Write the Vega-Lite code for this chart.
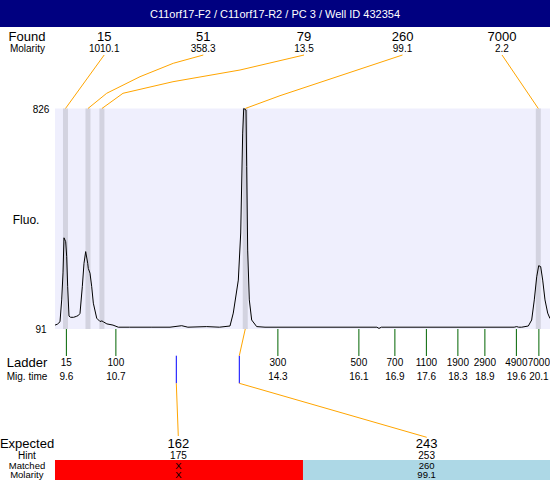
{
  "$schema": "https://vega.github.io/schema/vega-lite/v6.json",
  "width": 550,
  "height": 480,
  "padding": 0,
  "autosize": {"type": "none"},
  "background": "white",
  "config": {"view": {"stroke": null}, "font": "Liberation Sans"},
  "datasets": {
    "panels": [
      {"part": "title bar", "t": 8.125, "t2": 20.3472, "f": 1097.67, "f2": 1187.667},
      {"part": "plot area", "t": 9.347, "t2": 20.3472, "f": 91, "f2": 826},
      {"part": "unmatched", "t": 9.347, "t2": 14.858, "f": -345.7, "f2": -412.333},
      {"part": "matched", "t": 14.858, "t2": 20.3472, "f": -345.7, "f2": -412.333}
    ],
    "bands": [
      {"size": 15, "t": 9.58, "f": 91, "f2": 826},
      {"size": 51, "t": 10.08, "f": 91, "f2": 826},
      {"size": 79, "t": 10.39, "f": 91, "f2": 826},
      {"size": 260, "t": 13.575, "f": 91, "f2": 826},
      {"size": 7000, "t": 20.087, "f": 91, "f2": 826}
    ],
    "rules": [
      {"kind": "ladder", "size": 15, "t": 9.6, "f": 91, "f2": 1},
      {"kind": "ladder", "size": 100, "t": 10.7, "f": 91, "f2": 1},
      {"kind": "ladder", "size": 300, "t": 14.3, "f": 91, "f2": 1},
      {"kind": "ladder", "size": 500, "t": 16.1, "f": 91, "f2": 1},
      {"kind": "ladder", "size": 700, "t": 16.9, "f": 91, "f2": 1},
      {"kind": "ladder", "size": 1100, "t": 17.6, "f": 91, "f2": 1},
      {"kind": "ladder", "size": 1900, "t": 18.3, "f": 91, "f2": 1},
      {"kind": "ladder", "size": 2900, "t": 18.9, "f": 91, "f2": 1},
      {"kind": "ladder", "size": 4900, "t": 19.6, "f": 91, "f2": 1},
      {"kind": "ladder", "size": 7000, "t": 20.1, "f": 91, "f2": 1},
      {"kind": "expected", "size": 162, "t": 12.043, "f": 2, "f2": -90},
      {"kind": "expected", "size": 243, "t": 13.443, "f": 2, "f2": -90}
    ],
    "trace": [
      {"t": 9.347, "f": 104}, {"t": 9.40, "f": 107}, {"t": 9.458, "f": 115}, {"t": 9.496, "f": 188},
      {"t": 9.525, "f": 278}, {"t": 9.547, "f": 395}, {"t": 9.585, "f": 382}, {"t": 9.607, "f": 332},
      {"t": 9.629, "f": 232}, {"t": 9.658, "f": 134}, {"t": 9.695, "f": 130}, {"t": 9.76, "f": 130},
      {"t": 9.82, "f": 133}, {"t": 9.865, "f": 136}, {"t": 9.903, "f": 143}, {"t": 9.954, "f": 232},
      {"t": 9.992, "f": 310}, {"t": 10.029, "f": 349}, {"t": 10.074, "f": 310}, {"t": 10.087, "f": 293},
      {"t": 10.125, "f": 277}, {"t": 10.163, "f": 232}, {"t": 10.199, "f": 177}, {"t": 10.274, "f": 127},
      {"t": 10.347, "f": 116}, {"t": 10.39, "f": 118}, {"t": 10.421, "f": 115}, {"t": 10.5, "f": 108},
      {"t": 10.636, "f": 104}, {"t": 10.754, "f": 97}, {"t": 11.0, "f": 97}, {"t": 11.5, "f": 97},
      {"t": 11.903, "f": 97}, {"t": 12.163, "f": 102}, {"t": 12.3, "f": 97}, {"t": 12.718, "f": 99},
      {"t": 13.0, "f": 97}, {"t": 13.236, "f": 101}, {"t": 13.309, "f": 144}, {"t": 13.421, "f": 254},
      {"t": 13.474, "f": 411}, {"t": 13.518, "f": 744}, {"t": 13.541, "f": 826}, {"t": 13.592, "f": 821},
      {"t": 13.607, "f": 632}, {"t": 13.629, "f": 354}, {"t": 13.665, "f": 188}, {"t": 13.718, "f": 121},
      {"t": 13.829, "f": 99}, {"t": 14.014, "f": 97}, {"t": 16.5, "f": 97}, {"t": 16.547, "f": 93},
      {"t": 16.6, "f": 97}, {"t": 19.55, "f": 97}, {"t": 19.607, "f": 99}, {"t": 19.65, "f": 97},
      {"t": 19.718, "f": 97}, {"t": 19.865, "f": 101}, {"t": 19.94, "f": 121}, {"t": 19.998, "f": 188},
      {"t": 20.052, "f": 265}, {"t": 20.096, "f": 302}, {"t": 20.14, "f": 299}, {"t": 20.185, "f": 254},
      {"t": 20.236, "f": 188}, {"t": 20.296, "f": 144}, {"t": 20.347, "f": 126}
    ],
    "connectors": [
      {"id": "15", "seq": 1, "t": 10.44, "f": 1004.3}, {"id": "15", "seq": 2, "t": 9.58, "f": 826},
      {"id": "51", "seq": 1, "t": 12.643, "f": 1004.3}, {"id": "51", "seq": 2, "t": 11.976, "f": 976.7},
      {"id": "51", "seq": 3, "t": 11.236, "f": 932}, {"id": "51", "seq": 4, "t": 10.496, "f": 876.7},
      {"id": "51", "seq": 5, "t": 10.08, "f": 826},
      {"id": "79", "seq": 1, "t": 14.881, "f": 1004.3}, {"id": "79", "seq": 2, "t": 14.569, "f": 993.3},
      {"id": "79", "seq": 3, "t": 13.458, "f": 954.3}, {"id": "79", "seq": 4, "t": 11.969, "f": 915.3},
      {"id": "79", "seq": 5, "t": 10.858, "f": 876.7}, {"id": "79", "seq": 6, "t": 10.39, "f": 826},
      {"id": "260", "seq": 1, "t": 17.069, "f": 1004.3}, {"id": "260", "seq": 2, "t": 14.347, "f": 868.7},
      {"id": "260", "seq": 3, "t": 13.575, "f": 826},
      {"id": "7000", "seq": 1, "t": 19.281, "f": 1004.3}, {"id": "7000", "seq": 2, "t": 20.087, "f": 826},
      {"id": "m243a", "seq": 1, "t": 13.575, "f": 91}, {"id": "m243a", "seq": 2, "t": 13.443, "f": 2},
      {"id": "m243b", "seq": 1, "t": 13.443, "f": -90}, {"id": "m243b", "seq": 2, "t": 17.607, "f": -270},
      {"id": "m162", "seq": 1, "t": 12.043, "f": -90}, {"id": "m162", "seq": 2, "t": 12.087, "f": -265.7}
    ],
    "labels": [
      {"kind": "title", "text": "C11orf17-F2 / C11orf17-R2 / PC 3 / Well ID 432354", "t": 14.236, "f": 1139.3},
      {"kind": "big", "text": "Found", "t": 8.725, "f": 1066},
      {"kind": "big", "text": "15", "t": 10.44, "f": 1066},
      {"kind": "big", "text": "51", "t": 12.64, "f": 1066},
      {"kind": "big", "text": "79", "t": 14.88, "f": 1066},
      {"kind": "big", "text": "260", "t": 17.07, "f": 1066},
      {"kind": "big", "text": "7000", "t": 19.28, "f": 1066},
      {"kind": "small", "text": "Molarity", "t": 8.735, "f": 1024.3},
      {"kind": "small", "text": "1010.1", "t": 10.44, "f": 1024.3},
      {"kind": "small", "text": "358.3", "t": 12.64, "f": 1024.3},
      {"kind": "small", "text": "13.5", "t": 14.88, "f": 1024.3},
      {"kind": "small", "text": "99.1", "t": 17.07, "f": 1024.3},
      {"kind": "small", "text": "2.2", "t": 19.28, "f": 1024.3},
      {"kind": "small", "text": "826", "t": 9.036, "f": 821},
      {"kind": "small", "text": "91", "t": 9.036, "f": 87.7},
      {"kind": "fluo", "text": "Fluo.", "t": 8.705, "f": 454.3},
      {"kind": "big", "text": "Ladder", "t": 8.725, "f": -22.3},
      {"kind": "small", "text": "Mig. time", "t": 8.725, "f": -69},
      {"kind": "small", "text": "15", "t": 9.6, "f": -22.3},
      {"kind": "small", "text": "100", "t": 10.7, "f": -22.3},
      {"kind": "small", "text": "300", "t": 14.3, "f": -22.3},
      {"kind": "small", "text": "500", "t": 16.1, "f": -22.3},
      {"kind": "small", "text": "700", "t": 16.9, "f": -22.3},
      {"kind": "small", "text": "1100", "t": 17.6, "f": -22.3},
      {"kind": "small", "text": "1900", "t": 18.3, "f": -22.3},
      {"kind": "small", "text": "2900", "t": 18.9, "f": -22.3},
      {"kind": "small", "text": "4900", "t": 19.6, "f": -22.3},
      {"kind": "small", "text": "7000", "t": 20.1, "f": -22.3},
      {"kind": "small", "text": "9.6", "t": 9.6, "f": -69},
      {"kind": "small", "text": "10.7", "t": 10.7, "f": -69},
      {"kind": "small", "text": "14.3", "t": 14.3, "f": -69},
      {"kind": "small", "text": "16.1", "t": 16.1, "f": -69},
      {"kind": "small", "text": "16.9", "t": 16.9, "f": -69},
      {"kind": "small", "text": "17.6", "t": 17.6, "f": -69},
      {"kind": "small", "text": "18.3", "t": 18.3, "f": -69},
      {"kind": "small", "text": "18.9", "t": 18.9, "f": -69},
      {"kind": "small", "text": "19.6", "t": 19.6, "f": -69},
      {"kind": "small", "text": "20.1", "t": 20.1, "f": -69},
      {"kind": "big", "text": "Expected", "t": 8.725, "f": -291.3},
      {"kind": "big", "text": "162", "t": 12.09, "f": -291.3},
      {"kind": "big", "text": "243", "t": 17.605, "f": -291.3},
      {"kind": "small", "text": "Hint", "t": 8.725, "f": -331.5},
      {"kind": "small", "text": "175", "t": 12.09, "f": -331.5},
      {"kind": "small", "text": "253", "t": 17.605, "f": -331.5},
      {"kind": "tiny", "text": "Matched", "t": 8.725, "f": -364.3},
      {"kind": "tiny", "text": "X", "t": 12.09, "f": -364.3},
      {"kind": "tiny", "text": "260", "t": 17.605, "f": -364.3},
      {"kind": "tiny", "text": "Molarity", "t": 8.72, "f": -396},
      {"kind": "tiny", "text": "X", "t": 12.09, "f": -396},
      {"kind": "tiny", "text": "99.1", "t": 17.605, "f": -396}
    ]
  },
  "encoding": {
    "x": {"field": "t", "type": "quantitative", "scale": {"domain": [8.125, 20.3472], "nice": false, "zero": false}, "axis": null},
    "y": {"field": "f", "type": "quantitative", "scale": {"domain": [-412.333, 1187.667], "nice": false, "zero": false}, "axis": null}
  },
  "layer": [
    {
      "data": {"name": "panels"},
      "mark": {"type": "rect"},
      "encoding": {
        "x2": {"field": "t2"},
        "y2": {"field": "f2"},
        "color": {"field": "part", "type": "nominal", "scale": {"domain": ["title bar", "plot area", "unmatched", "matched"], "range": ["#000080", "#EFEFFD", "#FF0000", "#ADD8E6"]}, "legend": null}
      }
    },
    {
      "data": {"name": "bands"},
      "mark": {"type": "rule", "color": "#D3D3E0", "strokeWidth": 5},
      "encoding": {"y2": {"field": "f2"}}
    },
    {
      "data": {"name": "trace"},
      "mark": {"type": "line", "color": "black", "strokeWidth": 1},
      "encoding": {}
    },
    {
      "data": {"name": "rules"},
      "transform": [{"filter": "datum.kind == 'ladder'"}],
      "mark": {"type": "rule", "strokeWidth": 1, "color": "#006400"},
      "encoding": {"y2": {"field": "f2"}}
    },
    {
      "data": {"name": "rules"},
      "transform": [{"filter": "datum.kind == 'expected'"}],
      "mark": {"type": "rule", "strokeWidth": 1, "color": "#0000FF"},
      "encoding": {"y2": {"field": "f2"}}
    },
    {
      "data": {"name": "connectors"},
      "mark": {"type": "line", "color": "#FFA500", "strokeWidth": 1},
      "encoding": {
        "detail": {"field": "id"},
        "order": {"field": "seq", "type": "quantitative"}
      }
    },
    {
      "data": {"name": "labels"},
      "transform": [{"filter": "datum.kind == 'title'"}],
      "mark": {"type": "text", "color": "white", "fontSize": 11, "align": "center", "baseline": "middle"},
      "encoding": {"text": {"field": "text"}}
    },
    {
      "data": {"name": "labels"},
      "transform": [{"filter": "datum.kind == 'big'"}],
      "mark": {"type": "text", "color": "black", "fontSize": 13, "align": "center", "baseline": "middle"},
      "encoding": {"text": {"field": "text"}}
    },
    {
      "data": {"name": "labels"},
      "transform": [{"filter": "datum.kind == 'small'"}],
      "mark": {"type": "text", "color": "black", "fontSize": 10, "align": "center", "baseline": "middle"},
      "encoding": {"text": {"field": "text"}}
    },
    {
      "data": {"name": "labels"},
      "transform": [{"filter": "datum.kind == 'tiny'"}],
      "mark": {"type": "text", "color": "black", "fontSize": 9.5, "align": "center", "baseline": "middle"},
      "encoding": {"text": {"field": "text"}}
    },
    {
      "data": {"name": "labels"},
      "transform": [{"filter": "datum.kind == 'fluo'"}],
      "mark": {"type": "text", "color": "black", "fontSize": 12, "align": "center", "baseline": "middle"},
      "encoding": {"text": {"field": "text"}}
    }
  ]
}
